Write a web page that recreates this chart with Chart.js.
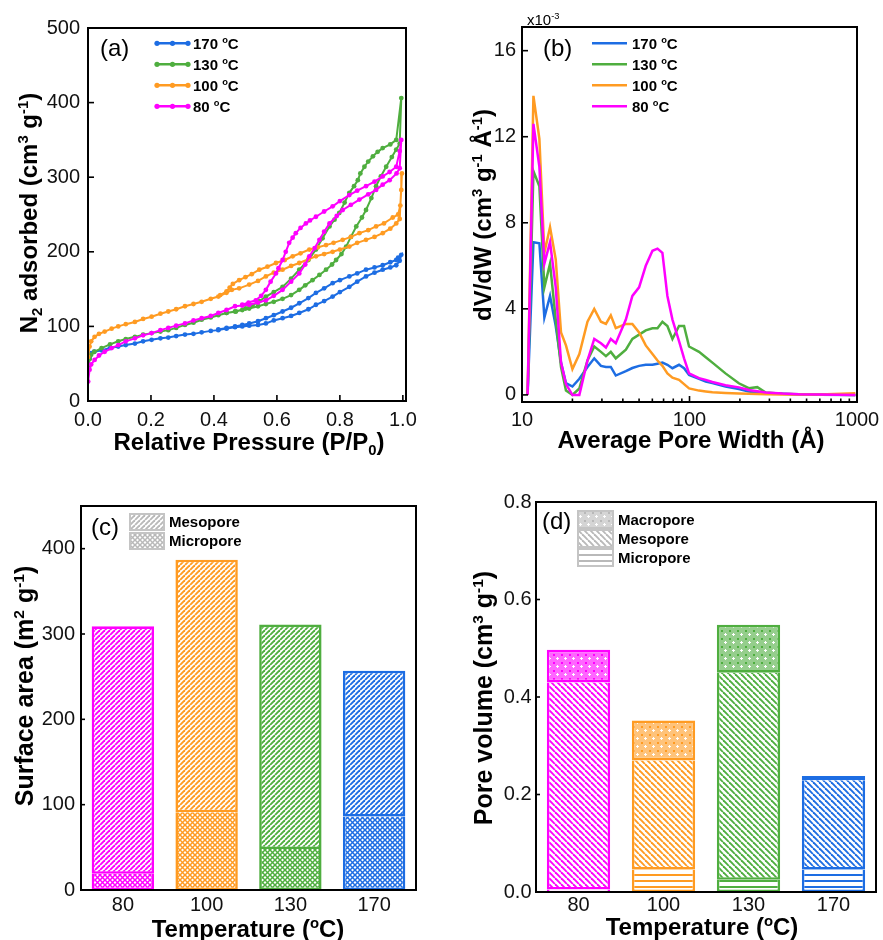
<!DOCTYPE html>
<html>
<head>
<meta charset="utf-8">
<script src="https://cdn.jsdelivr.net/npm/chart.js@4.4.1/dist/chart.umd.min.js"></script>
<style>
    html, body { margin: 0; padding: 0; background: #fff; }
    #page { position: relative; width: 883px; height: 940px; overflow: hidden; background: #fff; }
    canvas { position: absolute; }
</style>
</head>
<body>
<div id="page">
    <canvas id="chart-a" width="441" height="470" style="left:0;top:0"></canvas>
    <canvas id="chart-b" width="460" height="470" style="left:441px;top:0"></canvas>
    <canvas id="chart-c" width="441" height="470" style="left:0;top:470px"></canvas>
    <canvas id="chart-d" width="442" height="470" style="left:441px;top:470px"></canvas>
</div>
<script>
(function () {
    var FONT = "'Liberation Sans', Arial, Helvetica, sans-serif";
    Chart.defaults.font.family = FONT;
    Chart.defaults.color = '#111';

    var C80 = '#ff00ff', C100 = '#ff9b22', C130 = '#4fae3f', C170 = '#1d6de3';
    var legendTemps = ['170', '130', '100', '80'];
    var legendColors = [C170, C130, C100, C80];

    // ---- (a) N2 isotherms: adsorption branch, then desorption branch ----
    var a170P = [0.001, 0.005, 0.01, 0.02, 0.043, 0.07, 0.096, 0.12, 0.149, 0.175, 0.202, 0.23, 0.255, 0.28, 0.308, 0.335, 0.361, 0.39, 0.414, 0.44, 0.467, 0.49, 0.512, 0.54, 0.565, 0.59, 0.618, 0.645, 0.671, 0.70, 0.724, 0.75, 0.777, 0.80, 0.83, 0.855, 0.883, 0.91, 0.936, 0.96, 0.979, 0.99, 0.995];
    var a170V = [47, 58, 64, 66, 68, 71, 73, 75, 77, 80, 82, 84, 85, 87, 89, 90, 92, 94, 95, 97, 99, 100, 101, 102, 104, 108, 111, 114, 118, 123, 129, 134, 140, 146, 153, 160, 167, 172, 176, 179, 182, 188, 196];
    var d170P = [0.985, 0.979, 0.96, 0.936, 0.91, 0.883, 0.855, 0.83, 0.80, 0.777, 0.75, 0.724, 0.70, 0.671, 0.645, 0.618, 0.59, 0.565, 0.54, 0.512, 0.49, 0.467, 0.44, 0.414];
    var d170V = [192, 189, 186, 182, 179, 176, 171, 167, 162, 158, 151, 145, 138, 131, 125, 120, 115, 111, 107, 104, 102, 100, 98, 96];

    var a130P = [0.001, 0.005, 0.01, 0.02, 0.043, 0.07, 0.096, 0.12, 0.149, 0.175, 0.202, 0.23, 0.255, 0.28, 0.308, 0.335, 0.361, 0.39, 0.414, 0.44, 0.467, 0.49, 0.512, 0.54, 0.565, 0.59, 0.618, 0.645, 0.671, 0.69, 0.713, 0.735, 0.756, 0.775, 0.788, 0.805, 0.82, 0.835, 0.852, 0.87, 0.883, 0.90, 0.915, 0.93, 0.947, 0.965, 0.979, 0.99, 0.995];
    var a130V = [46, 56, 62, 66, 71, 76, 80, 83, 86, 89, 91, 93, 95, 98, 102, 105, 109, 112, 115, 118, 120, 122, 124, 127, 130, 133, 137, 142, 149, 155, 162, 169, 176, 183, 189, 197, 207, 220, 234, 246, 256, 272, 288, 301, 314, 327, 337, 345, 406];
    var d130P = [0.979, 0.96, 0.936, 0.92, 0.905, 0.89, 0.878, 0.865, 0.857, 0.845, 0.83, 0.815, 0.798, 0.783, 0.767, 0.745, 0.724, 0.70, 0.671, 0.645, 0.618, 0.59, 0.565, 0.545, 0.522, 0.50, 0.47, 0.44];
    var d130V = [350, 344, 339, 334, 328, 321, 314, 305, 296, 288, 279, 266, 252, 243, 234, 218, 203, 189, 176, 164, 153, 146, 140, 134, 128, 124, 120, 118];

    var a100P = [0.0005, 0.005, 0.01, 0.021, 0.035, 0.053, 0.075, 0.096, 0.12, 0.149, 0.175, 0.202, 0.23, 0.255, 0.28, 0.308, 0.335, 0.361, 0.39, 0.414, 0.44, 0.457, 0.48, 0.512, 0.54, 0.565, 0.59, 0.618, 0.645, 0.671, 0.70, 0.724, 0.75, 0.777, 0.80, 0.83, 0.855, 0.883, 0.91, 0.936, 0.96, 0.979, 0.99, 0.997];
    var a100V = [59, 73, 80, 86, 90, 93, 97, 100, 103, 106, 110, 113, 117, 120, 123, 127, 130, 133, 137, 140, 145, 149, 151, 156, 161, 167, 172, 176, 181, 185, 190, 194, 197, 200, 203, 207, 212, 216, 220, 225, 231, 238, 244, 305];
    var d100P = [0.995, 0.992, 0.985, 0.968, 0.94, 0.915, 0.89, 0.862, 0.835, 0.809, 0.78, 0.756, 0.73, 0.703, 0.675, 0.65, 0.625, 0.597, 0.57, 0.544, 0.52, 0.50, 0.48, 0.46, 0.45, 0.44, 0.42];
    var d100V = [283, 262, 250, 246, 238, 234, 229, 225, 220, 216, 212, 209, 206, 203, 198, 194, 189, 185, 180, 176, 170, 166, 162, 157, 152, 147, 142];

    var a80P = [0.0005, 0.005, 0.01, 0.021, 0.035, 0.053, 0.075, 0.096, 0.12, 0.149, 0.175, 0.202, 0.23, 0.255, 0.28, 0.308, 0.335, 0.361, 0.39, 0.414, 0.44, 0.467, 0.49, 0.512, 0.54, 0.565, 0.59, 0.618, 0.645, 0.671, 0.69, 0.703, 0.72, 0.735, 0.75, 0.767, 0.79, 0.809, 0.835, 0.862, 0.89, 0.915, 0.936, 0.958, 0.98, 0.99, 0.995];
    var a80V = [26, 42, 49, 55, 61, 66, 71, 75, 80, 84, 88, 91, 95, 98, 101, 104, 108, 111, 114, 118, 122, 127, 128, 129, 132, 135, 141, 149, 160, 171, 183, 194, 205, 216, 227, 238, 248, 256, 263, 270, 277, 283, 290, 296, 305, 312, 350];
    var d80P = [0.99, 0.979, 0.958, 0.936, 0.91, 0.883, 0.855, 0.83, 0.80, 0.777, 0.75, 0.724, 0.705, 0.692, 0.675, 0.66, 0.65, 0.639, 0.628, 0.618, 0.605, 0.597, 0.58, 0.565, 0.55, 0.533, 0.51, 0.49];
    var d80V = [335, 314, 307, 301, 294, 288, 282, 276, 268, 261, 254, 247, 242, 238, 232, 225, 219, 212, 200, 189, 178, 171, 160, 149, 141, 135, 132, 129];

    var pressureTicks = [0, 0.2, 0.4, 0.6, 0.8, 1.0];
    var adsorbedTicks = [0, 100, 200, 300, 400, 500];

    // ---- (b) pore size distribution (values x10^-3) ----
    var psdWidth = [10.8, 11.7, 12.7, 13.6, 14.7, 15.9, 17.1, 18.3, 20.0, 22.0, 24.6, 27.0, 29.6, 31.7, 33.9, 36.3, 41.7, 45.6, 50.0, 54.8, 60.1, 64.4, 68.9, 73.8, 79.1, 86.6, 92.8, 99.4, 114, 125, 137, 164, 197, 226, 254, 285, 358, 450, 600, 978];
    var psd80 = [0, 12.6, 10.6, 6.1, 7.1, 5.0, 1.5, 0.5, 0, 0, 1.6, 2.6, 2.4, 2.2, 2.6, 2.4, 3.5, 4.6, 5.0, 6.0, 6.7, 6.8, 6.6, 4.6, 3.5, 2.5, 1.7, 1.0, 0.78, 0.7, 0.6, 0.45, 0.35, 0.23, 0.17, 0.11, 0.06, 0.03, 0.02, 0];
    var psd100 = [0, 13.9, 11.9, 6.6, 7.8, 6.3, 2.9, 2.3, 1.2, 1.9, 3.4, 4.0, 3.4, 3.3, 3.7, 3.1, 3.3, 3.3, 2.9, 2.3, 1.9, 1.6, 1.35, 1.0, 0.8, 0.7, 0.5, 0.3, 0.2, 0.16, 0.12, 0.09, 0.07, 0.05, 0.04, 0.03, 0.02, 0.02, 0.02, 0.08];
    var psd130 = [0, 10.4, 9.7, 5.0, 6.1, 3.5, 1.3, 0.2, 0, 0.3, 1.6, 2.25, 2.0, 1.8, 2.0, 1.7, 2.1, 2.6, 2.8, 3.0, 3.1, 3.1, 3.4, 3.2, 2.6, 3.2, 3.2, 2.25, 2.0, 1.75, 1.5, 1.0, 0.54, 0.31, 0.36, 0.11, 0.05, 0.03, 0.02, 0];
    var psd170 = [0, 7.1, 7.05, 3.6, 4.6, 3.2, 1.5, 0.55, 0.39, 0.75, 1.3, 1.7, 1.35, 1.3, 1.3, 0.9, 1.1, 1.25, 1.35, 1.4, 1.4, 1.45, 1.5, 1.4, 1.24, 1.4, 1.24, 0.93, 0.75, 0.62, 0.55, 0.39, 0.27, 0.16, 0.1, 0.07, 0.05, 0.02, 0.01, 0];
    var widthTicks = [10, 100, 1000];
    var widthMinorTicks = [20, 30, 40, 50, 60, 70, 80, 90, 200, 300, 400, 500, 600, 700, 800, 900];
    var psdTicks = [0, 4, 8, 12, 16];

    // ---- (c) surface area, (d) pore volume ----
    var tempCats = ['80', '100', '130', '170'];
    var barColors = [C80, C100, C130, C170];
    var areaMicro = [19, 91, 48, 86];
    var areaMeso = [290, 296, 263, 171];
    var areaTicks = [0, 100, 200, 300, 400];
    var volMicro = [0.005, 0.046, 0.025, 0.046];
    var volMeso = [0.425, 0.224, 0.425, 0.183];
    var volMacro = [0.067, 0.082, 0.098, 0.009];
    var volTicks = [0, 0.2, 0.4, 0.6, 0.8];

    function zipPoints(xs, ys) {
        return xs.map(function (x, i) { return { x: x, y: ys[i] }; });
    }

    function loop(pA, vA, pD, vD) {
        return zipPoints(pA, vA).concat(zipPoints(pD, vD));
    }

    function hatch(color, kind) {
        var s = { slash: 5, back: 6, cross: 5, horiz: 6, dots: 8 }[kind];
        var c = document.createElement('canvas');
        c.width = s; c.height = s;
        var g = c.getContext('2d');
        g.fillStyle = '#fff';
        g.fillRect(0, 0, s, s);
        g.strokeStyle = color;
        g.fillStyle = color;
        var k;
        if (kind === 'slash' || kind === 'cross') {
            g.lineWidth = kind === 'cross' ? 1.5 : 1.9;
            for (k = -1; k <= 1; k++) {
                g.beginPath(); g.moveTo(k * s, s); g.lineTo(k * s + s, 0); g.stroke();
            }
        }
        if (kind === 'back' || kind === 'cross') {
            g.lineWidth = kind === 'cross' ? 1.5 : 1.9;
            for (k = -1; k <= 1; k++) {
                g.beginPath(); g.moveTo(k * s, 0); g.lineTo(k * s + s, s); g.stroke();
            }
        }
        if (kind === 'horiz') {
            g.fillRect(0, 2, s, 2);
        }
        if (kind === 'dots') {
            g.globalAlpha = 0.6;
            g.fillRect(0, 0, s, s);
            g.globalAlpha = 1;
            g.fillRect(0, 0, 2, 2);
            g.fillStyle = '#fff';
            g.fillRect(3, 4, 3, 1);
            g.fillRect(4, 3, 1, 3);
        }
        return g.createPattern(c, 'repeat');
    }

    function drawRich(ctx, segs, x, y, size, weight, align, rotate) {
        var small = size * 0.62;
        ctx.save();
        ctx.translate(x, y);
        if (rotate) ctx.rotate(-Math.PI / 2);
        var total = 0;
        segs.forEach(function (s) {
            ctx.font = weight + ' ' + (s.sup || s.sub ? small : size) + 'px ' + FONT;
            total += ctx.measureText(s.t).width;
        });
        var cx = align === 'center' ? -total / 2 : 0;
        ctx.textAlign = 'left';
        ctx.textBaseline = 'alphabetic';
        ctx.fillStyle = '#000';
        segs.forEach(function (s) {
            ctx.font = weight + ' ' + (s.sup || s.sub ? small : size) + 'px ' + FONT;
            var dy = s.sup ? -size * 0.38 : (s.sub ? size * 0.2 : 0);
            ctx.fillText(s.t, cx, dy);
            cx += ctx.measureText(s.t).width;
        });
        ctx.restore();
    }

    function tempSegs(t) {
        return [{ t: t + ' ' }, { t: 'o', sup: true }, { t: 'C' }];
    }

    function layoutFor(box, canvasBox, yWidth, xHeight) {
        return {
            padding: {
                left: box.left - canvasBox.left - yWidth,
                top: box.top - canvasBox.top,
                right: canvasBox.left + canvasBox.width - box.right,
                bottom: canvasBox.top + canvasBox.height - box.bottom - xHeight
            }
        };
    }

    function line(ctx, x1, y1, x2, y2) {
        ctx.beginPath(); ctx.moveTo(x1, y1); ctx.lineTo(x2, y2); ctx.stroke();
    }

    // frame + inward ticks, then page-space decorations
    function decorPlugin(spec) {
        return {
            id: 'decor',
            afterDraw: function (chart) {
                var ctx = chart.ctx;
                var a = chart.chartArea;
                var sx = chart.scales.x, sy = chart.scales.y;
                ctx.save();
                ctx.strokeStyle = '#000';
                ctx.lineWidth = 1.6;
                (spec.xTicks || []).forEach(function (v) {
                    var px = sx.getPixelForValue(v);
                    line(ctx, px, a.bottom, px, a.bottom - 6);
                });
                (spec.xMinor || []).forEach(function (v) {
                    var px = sx.getPixelForValue(v);
                    line(ctx, px, a.bottom, px, a.bottom - 3.5);
                });
                (spec.yTicks || []).forEach(function (v) {
                    var py = sy.getPixelForValue(v);
                    line(ctx, a.left, py, a.left + (spec.yTickLen || 6), py);
                });
                ctx.lineWidth = 2;
                ctx.strokeRect(a.left, a.top, a.right - a.left, a.bottom - a.top);
                ctx.translate(-spec.ox, -spec.oy);
                spec.draw(ctx);
                ctx.restore();
            }
        };
    }

    function lineLegend(ctx, x1, x2, tx, withMarkers) {
        legendTemps.forEach(function (t, i) {
            var y = 43.3 + i * 21;
            ctx.strokeStyle = legendColors[i];
            ctx.fillStyle = legendColors[i];
            ctx.lineWidth = 2.6;
            line(ctx, x1, y, x2, y);
            if (withMarkers) {
                [x1 + 2, (x1 + x2) / 2, x2 - 2].forEach(function (mx) {
                    ctx.beginPath(); ctx.arc(mx, y, 2.6, 0, Math.PI * 2); ctx.fill();
                });
            }
            drawRich(ctx, tempSegs(t), tx, y + 5.4, 15, 'bold', 'left', false);
        });
    }

    function patchLegend(ctx, x, w, rows, labels, kinds) {
        rows.forEach(function (r, i) {
            ctx.fillStyle = hatch('#b9b9b9', kinds[i]);
            ctx.fillRect(x, r[0], w, r[1] - r[0]);
            ctx.strokeStyle = '#c4c4c4';
            ctx.lineWidth = 2;
            ctx.strokeRect(x, r[0], w, r[1] - r[0]);
            drawRich(ctx, [{ t: labels[i] }], x + w + 5, (r[0] + r[1]) / 2 + 5.4, 15, 'bold', 'left', false);
        });
    }

    function axisCommon(extra) {
        var base = {
            grid: { display: false, drawTicks: false },
            border: { display: false },
            ticks: { font: { size: 20 }, color: '#111', maxRotation: 0, autoSkip: false }
        };
        Object.keys(extra).forEach(function (k) {
            if (k === 'ticks') {
                Object.keys(extra.ticks).forEach(function (t) { base.ticks[t] = extra.ticks[t]; });
            } else {
                base[k] = extra[k];
            }
        });
        return base;
    }

    function fixedTicks(values) {
        return function (scale) {
            scale.ticks = values.map(function (v) { return { value: v }; });
        };
    }

    var baseOptions = {
        responsive: false,
        animation: false,
        devicePixelRatio: 1,
        events: []
    };

    function opts(extra) {
        var o = {};
        Object.keys(baseOptions).forEach(function (k) { o[k] = baseOptions[k]; });
        Object.keys(extra).forEach(function (k) { o[k] = extra[k]; });
        o.plugins = { legend: { display: false }, tooltip: { enabled: false } };
        return o;
    }

    // ---------- (a) ----------
    var boxA = { left: 88, top: 28, right: 406, bottom: 401 };
    function isoSet(color, pts) {
        return {
            data: pts, showLine: true, borderColor: color, backgroundColor: color,
            borderWidth: 2, pointRadius: 2.4, pointBorderWidth: 0, tension: 0
        };
    }
    new Chart(document.getElementById('chart-a'), {
        type: 'scatter',
        data: {
            datasets: [
                isoSet(C80, loop(a80P, a80V, d80P, d80V)),
                isoSet(C100, loop(a100P, a100V, d100P, d100V)),
                isoSet(C130, loop(a130P, a130V, d130P, d130V)),
                isoSet(C170, loop(a170P, a170V, d170P, d170V))
            ]
        },
        options: opts({
            layout: layoutFor(boxA, { left: 0, top: 0, width: 441, height: 470 }, 70, 40),
            scales: {
                x: axisCommon({
                    type: 'linear', min: 0, max: 1.01,
                    afterBuildTicks: fixedTicks(pressureTicks),
                    afterFit: function (s) { s.height = 40; },
                    ticks: { padding: 7, callback: function (v) { return v.toFixed(1); } }
                }),
                y: axisCommon({
                    type: 'linear', min: 0, max: 500,
                    afterBuildTicks: fixedTicks(adsorbedTicks),
                    afterFit: function (s) { s.width = 70; },
                    ticks: { padding: 8 }
                })
            }
        }),
        plugins: [decorPlugin({
            ox: 0, oy: 0, xTicks: pressureTicks, yTicks: adsorbedTicks,
            draw: function (ctx) {
                drawRich(ctx, [{ t: '(a)' }], 100, 56, 24, 'normal', 'left', false);
                lineLegend(ctx, 155, 190, 193, true);
                drawRich(ctx, [{ t: 'Relative Pressure (P/P' }, { t: '0', sub: true }, { t: ')' }], 249, 450, 24, 'bold', 'center', false);
                drawRich(ctx, [{ t: 'N' }, { t: '2', sub: true }, { t: ' adsorbed (cm' }, { t: '3', sup: true }, { t: ' g' }, { t: '-1', sup: true }, { t: ')' }], 37, 213, 24, 'bold', 'center', true);
            }
        })]
    });

    // ---------- (b) ----------
    var boxB = { left: 522, top: 27, right: 857, bottom: 402 };
    function psdSet(color, values) {
        return {
            data: zipPoints(psdWidth, values), showLine: true, borderColor: color,
            backgroundColor: color, borderWidth: 2.5, pointRadius: 0, tension: 0
        };
    }
    new Chart(document.getElementById('chart-b'), {
        type: 'scatter',
        data: {
            datasets: [
                psdSet(C80, psd80),
                psdSet(C100, psd100),
                psdSet(C130, psd130),
                psdSet(C170, psd170)
            ]
        },
        options: opts({
            layout: layoutFor(boxB, { left: 441, top: 0, width: 460, height: 470 }, 60, 40),
            scales: {
                x: axisCommon({
                    type: 'logarithmic', min: 10, max: 1000,
                    afterBuildTicks: fixedTicks(widthTicks),
                    afterFit: function (s) { s.height = 40; },
                    ticks: { padding: 6, callback: function (v) { return String(v); } }
                }),
                y: axisCommon({
                    type: 'linear', min: -0.33, max: 17.1,
                    afterBuildTicks: fixedTicks(psdTicks),
                    afterFit: function (s) { s.width = 60; },
                    ticks: { padding: 6 }
                })
            }
        }),
        plugins: [decorPlugin({
            ox: 441, oy: 0, xTicks: widthTicks, xMinor: widthMinorTicks, yTicks: psdTicks,
            draw: function (ctx) {
                drawRich(ctx, [{ t: 'x10' }, { t: '-3', sup: true }], 527, 25, 15, 'normal', 'left', false);
                drawRich(ctx, [{ t: '(b)' }], 543, 56, 24, 'normal', 'left', false);
                lineLegend(ctx, 592, 627, 632, false);
                drawRich(ctx, [{ t: 'Average Pore Width (\u00c5)' }], 691, 448, 24, 'bold', 'center', false);
                drawRich(ctx, [{ t: 'dV/dW (cm' }, { t: '3', sup: true }, { t: ' g' }, { t: '-1', sup: true }, { t: ' \u00c5' }, { t: '-1', sup: true }, { t: ')' }], 491, 215, 24, 'bold', 'center', true);
            }
        })]
    });

    // ---------- bars ----------
    function barSet(values, kind, isTop) {
        var bw = isTop ? 2.6 : { top: 0, left: 2.6, right: 2.6, bottom: 2.6 };
        return {
            data: values,
            backgroundColor: barColors.map(function (c) { return hatch(c, kind); }),
            borderColor: barColors,
            borderWidth: bw,
            borderSkipped: false,
            categoryPercentage: 1,
            barPercentage: 0.745
        };
    }

    // ---------- (c) ----------
    var boxC = { left: 81, top: 506, right: 416, bottom: 890 };
    new Chart(document.getElementById('chart-c'), {
        type: 'bar',
        data: {
            labels: tempCats,
            datasets: [barSet(areaMicro, 'cross', false), barSet(areaMeso, 'slash', true)]
        },
        options: opts({
            layout: layoutFor(boxC, { left: 0, top: 470, width: 441, height: 470 }, 60, 40),
            scales: {
                x: axisCommon({
                    type: 'category', stacked: true,
                    afterFit: function (s) { s.height = 40; },
                    ticks: { padding: 3 }
                }),
                y: axisCommon({
                    type: 'linear', stacked: true, min: 0, max: 450,
                    afterBuildTicks: fixedTicks(areaTicks),
                    afterFit: function (s) { s.width = 60; },
                    ticks: { padding: 6 }
                })
            }
        }),
        plugins: [decorPlugin({
            ox: 0, oy: 470, yTicks: areaTicks, yTickLen: 4,
            draw: function (ctx) {
                drawRich(ctx, [{ t: '(c)' }], 91, 535, 24, 'normal', 'left', false);
                patchLegend(ctx, 130, 34, [[514, 530], [533, 549]], ['Mesopore', 'Micropore'], ['slash', 'cross']);
                drawRich(ctx, [{ t: 'Temperature (' }, { t: 'o', sup: true }, { t: 'C)' }], 248, 937, 24, 'bold', 'center', false);
                drawRich(ctx, [{ t: 'Surface area (m' }, { t: '2', sup: true }, { t: ' g' }, { t: '-1', sup: true }, { t: ')' }], 33, 686, 25, 'bold', 'center', true);
            }
        })]
    });

    // ---------- (d) ----------
    var boxD = { left: 536, top: 502, right: 876, bottom: 892 };
    new Chart(document.getElementById('chart-d'), {
        type: 'bar',
        data: {
            labels: tempCats,
            datasets: [
                barSet(volMicro, 'horiz', false),
                barSet(volMeso, 'back', false),
                barSet(volMacro, 'dots', true)
            ]
        },
        options: opts({
            layout: layoutFor(boxD, { left: 441, top: 470, width: 442, height: 470 }, 60, 40),
            scales: {
                x: axisCommon({
                    type: 'category', stacked: true,
                    afterFit: function (s) { s.height = 40; },
                    ticks: { padding: 1 }
                }),
                y: axisCommon({
                    type: 'linear', stacked: true, min: 0, max: 0.8,
                    afterBuildTicks: fixedTicks(volTicks),
                    afterFit: function (s) { s.width = 60; },
                    ticks: { padding: 4.5, callback: function (v) { return v.toFixed(1); } }
                })
            }
        }),
        plugins: [decorPlugin({
            ox: 441, oy: 470, yTicks: volTicks, yTickLen: 4,
            draw: function (ctx) {
                drawRich(ctx, [{ t: '(d)' }], 542, 529, 24, 'normal', 'left', false);
                patchLegend(ctx, 578, 35, [[511, 528], [530, 547], [549, 566]], ['Macropore', 'Mesopore', 'Micropore'], ['dots', 'back', 'horiz']);
                drawRich(ctx, [{ t: 'Temperature (' }, { t: 'o', sup: true }, { t: 'C)' }], 702, 935, 24, 'bold', 'center', false);
                drawRich(ctx, [{ t: 'Pore volume (cm' }, { t: '3', sup: true }, { t: ' g' }, { t: '-1', sup: true }, { t: ')' }], 492, 698, 25, 'bold', 'center', true);
            }
        })]
    });
})();
</script>
</body>
</html>
